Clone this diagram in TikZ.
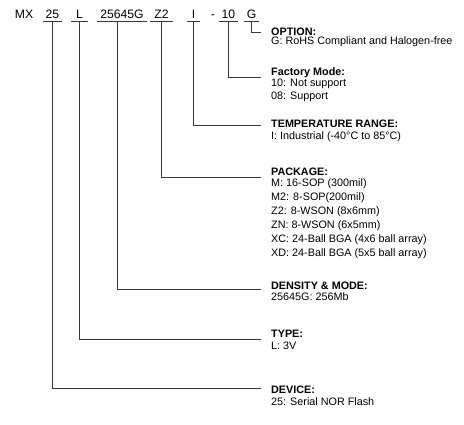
\documentclass[tikz,border=0pt]{standalone}
\usepackage{fontspec}
\setmainfont{Liberation Sans}
\begin{document}
\begin{tikzpicture}[x=1pt,y=-1pt,
  tok/.style={anchor=base,inner xsep=0pt,inner ysep=2.8pt,text depth=0pt,font=\fontsize{12.2}{14}\selectfont},
  hd/.style={anchor=base west,inner sep=0pt,font=\fontsize{10.8}{12}\selectfont\bfseries},
  ds/.style={anchor=base west,inner sep=0pt,font=\fontsize{10.8}{12}\selectfont},
  conn/.style={draw=black!78,line width=1pt},
  uline/.style={draw=black!78,line width=1pt}]
\path[use as bounding box] (0,0) rectangle (464,425);
% top row tokens
\node[tok] (tMX) at (24,18.7) {MX};
\node[tok,minimum width=19pt] (t25) at (52.5,18.7) {25};
\node[tok,minimum width=17pt] (tL) at (79.5,18.7) {L};
\node[tok,minimum width=50pt] (tD) at (122,18.7) {25645G};
\node[tok,minimum width=23pt] (tZ) at (161.5,18.7) {Z2};
\node[tok,minimum width=12pt] (tI) at (193.5,18.7) {I};
\node[tok] (tdash) at (213,18.7) {-};
\node[tok,minimum width=19pt] (t10) at (228.5,18.7) {10};
\node[tok,minimum width=15pt] (tG) at (251.5,18.7) {G};
\foreach \n in {t25,tL,tD,tZ,tI,t10,tG}
  \draw[uline] (\n.south west) -- (\n.south east);
% line ends
\coordinate (eG) at (261,33);
\coordinate (e10) at (261,77.5);
\coordinate (eI) at (261,126);
\coordinate (eZ) at (261,178);
\coordinate (eD) at (261,290);
\coordinate (eL) at (261,340);
\coordinate (e25) at (261,388.5);
\draw[conn] ([xshift=-0.5pt]tG.south) |- (eG);
\draw[conn] (t10.south) |- (e10);
\draw[conn] (tI.south) |- (eI);
\draw[conn] (tZ.south) |- (eZ);
\draw[conn] ([xshift=-4.5pt]tD.south) |- (eD);
\draw[conn] (tL.south) |- (eL);
\draw[conn] (t25.south) |- (e25);
% texts
\node[hd] (hOpt) at (271,35.3) {OPTION:};
\node[ds] (dOpt) at (271,45) {G: RoHS Compliant and Halogen-free};
\node[hd] (hFac) at (271,76) {Factory Mode:};
\node[ds] (dFac1) at (271,86.5) {10: Not support};
\node[ds] (dFac2) at (271,100) {08: Support};
\node[hd] (hTmp) at (271,127.3) {TEMPERATURE RANGE:};
\node[ds] (dTmp) at (271,139.5) {I: Industrial (-40°C to 85°C)};
\node[hd] (hPkg) at (271,176) {PACKAGE:};
\node[ds] (dPkg1) at (271,186.5) {M: 16-SOP (300mil)};
\node[ds] (dPkg2) at (271,200.5) {M2: 8-SOP(200mil)};
\node[ds] (dPkg3) at (271,214.7) {Z2: 8-WSON (8x6mm)};
\node[ds] (dPkg4) at (271,229) {ZN: 8-WSON (6x5mm)};
\node[ds] (dPkg5) at (271,243) {XC: 24-Ball BGA (4x6 ball array)};
\node[ds] (dPkg6) at (271,257) {XD: 24-Ball BGA (5x5 ball array)};
\node[hd] (hDen) at (271,289.3) {DENSITY \& MODE:};
\node[ds] (dDen) at (271,300.7) {25645G: 256Mb};
\node[hd] (hTyp) at (271,337.7) {TYPE:};
\node[ds] (dTyp) at (271,350) {L: 3V};
\node[hd] (hDev) at (271,393) {DEVICE:};
\node[ds] (dDev) at (271,406) {25: Serial NOR Flash};
\end{tikzpicture}
\end{document}
